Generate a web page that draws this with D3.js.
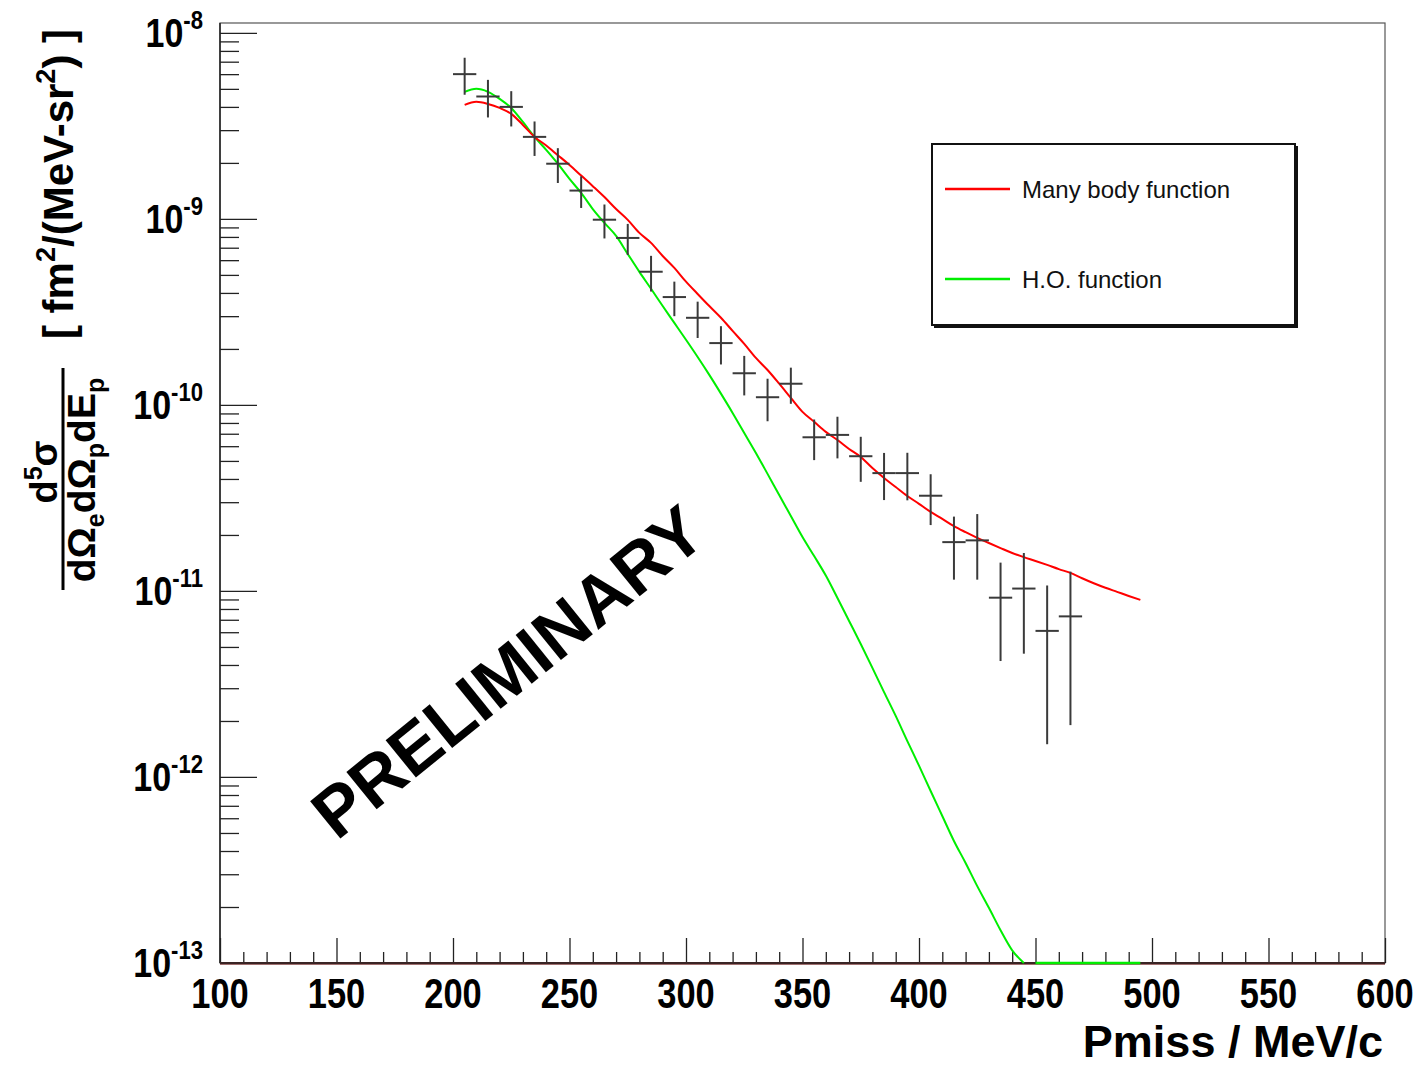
<!DOCTYPE html>
<html>
<head>
<meta charset="utf-8">
<script src="https://cdn.jsdelivr.net/npm/d3@7"></script>
<style>
  html, body { margin: 0; padding: 0; background: #fff; }
  svg { display: block; }
  text { font-family: "Liberation Sans", Arial, Helvetica, sans-serif; }
</style>
</head>
<body>
<svg id="chart" width="1420" height="1067"></svg>
<script>
// Measured cross section vs missing momentum (bin centres, MeV/c)
const pmiss = [205, 215, 225, 235, 245, 255, 265, 275, 285, 295, 305, 315, 325, 335, 345,
               355, 365, 375, 385, 395, 405, 415, 425, 435, 445, 455, 465];
const xsec = [6.0e-9, 4.55e-9, 4.0e-9, 2.76e-9, 1.98e-9, 1.42e-9, 9.9e-10, 7.9e-10, 5.2e-10, 3.8e-10,
              2.94e-10, 2.15e-10, 1.48e-10, 1.10e-10, 1.30e-10, 6.7e-11, 6.9e-11, 5.3e-11, 4.3e-11, 4.3e-11,
              3.25e-11, 1.83e-11, 1.87e-11, 9.2e-12, 1.03e-11, 6.1e-12, 7.3e-12];
const xsecErr = [1.35e-9, 1.04e-9, 0.86e-9, 0.58e-9, 0.42e-9, 0.275e-9, 2.05e-10, 1.5e-10, 1.13e-10, 0.8e-10,
                 0.65e-10, 0.5e-10, 0.355e-10, 2.83e-11, 2.86e-11, 1.65e-11, 1.74e-11, 1.44e-11, 1.22e-11, 1.23e-11,
                 0.99e-11, 0.68e-11, 0.72e-11, 0.50e-11, 0.57e-11, 0.46e-11, 0.54e-11];
const binHalfWidth = 5;

// Model curves sampled in missing momentum
const curveP = [205, 210, 215, 220, 225, 230, 235, 240, 245, 250, 255, 260, 265, 270, 275, 280,
                285, 290, 295, 300, 305, 310, 315, 320, 325, 330, 335, 340, 345, 350, 355, 360,
                365, 370, 375, 380, 385, 390, 395, 400, 405, 410, 415, 420, 425, 430, 435, 440,
                445, 450, 455, 460, 465, 470, 475, 480, 485, 490, 495];
const manyBody = [4.10e-9, 4.26e-9, 4.15e-9, 3.95e-9, 3.67e-9, 3.20e-9, 2.76e-9, 2.48e-9, 2.20e-9, 1.95e-9,
                  1.71e-9, 1.50e-9, 1.31e-9, 1.13e-9, 9.88e-10, 8.41e-10, 7.43e-10, 6.32e-10, 5.45e-10, 4.60e-10,
                  3.95e-10, 3.40e-10, 2.94e-10, 2.50e-10, 2.13e-10, 1.79e-10, 1.54e-10, 1.30e-10, 1.09e-10, 9.17e-11,
                  8.11e-11, 7.16e-11, 6.48e-11, 5.80e-11, 5.25e-11, 4.58e-11, 4.05e-11, 3.62e-11, 3.24e-11, 2.94e-11,
                  2.66e-11, 2.44e-11, 2.23e-11, 2.07e-11, 1.93e-11, 1.81e-11, 1.70e-11, 1.60e-11, 1.52e-11, 1.45e-11,
                  1.38e-11, 1.31e-11, 1.25e-11, 1.17e-11, 1.10e-11, 1.04e-11, 9.89e-12, 9.40e-12, 8.95e-12];
const hoFunction = [4.82e-9, 5.00e-9, 4.82e-9, 4.42e-9, 3.95e-9, 3.32e-9, 2.76e-9, 2.35e-9, 1.98e-9, 1.64e-9,
                    1.38e-9, 1.13e-9, 9.52e-10, 8.10e-10, 6.48e-10, 5.19e-10, 4.21e-10, 3.40e-10, 2.76e-10, 2.24e-10,
                    1.81e-10, 1.45e-10, 1.15e-10, 9.06e-11, 7.07e-11, 5.52e-11, 4.26e-11, 3.28e-11, 2.53e-11, 1.95e-11,
                    1.54e-11, 1.21e-11, 9.17e-12, 6.90e-12, 5.19e-12, 3.86e-12, 2.86e-12, 2.13e-12, 1.56e-12, 1.15e-12,
                    8.41e-13, 6.17e-13, 4.53e-13, 3.45e-13, 2.59e-13, 1.98e-13, 1.50e-13, 1.17e-13, 1.00e-13, 7.0e-14,
                    4.0e-14, 2.5e-14, 1.5e-14, 9.0e-15, 5.0e-15, 3.0e-15, 2.0e-15, 1.0e-15, 6.0e-16];

// Axis ticks
const xMajorTicks = [100, 150, 200, 250, 300, 350, 400, 450, 500, 550, 600];
const xMinorTicks = [110, 120, 130, 140, 160, 170, 180, 190, 210, 220, 230, 240, 260, 270, 280, 290,
                     310, 320, 330, 340, 360, 370, 380, 390, 410, 420, 430, 440, 460, 470, 480, 490,
                     510, 520, 530, 540, 560, 570, 580, 590];
const yDecadeExponents = [-8, -9, -10, -11, -12, -13];
const yMinorMantissas = [2, 3, 4, 5, 6, 7, 8, 9];

const legendItems = [
  { label: "Many body function", color: "#ff0000" },
  { label: "H.O. function", color: "#00ee00" }
];

const yMin = 1e-13, yMax = 1.13e-8;
const plot = { left: 220, right: 1385, top: 23, bottom: 963 };

const svg = d3.select("#chart");
const x = d3.scaleLinear().domain([100, 600]).range([plot.left, plot.right]);
const y = d3.scaleLog().domain([yMin, yMax]).range([plot.bottom, plot.top]).clamp(true);

// Frame
svg.append("rect")
  .attr("x", plot.left).attr("y", plot.top)
  .attr("width", plot.right - plot.left).attr("height", plot.bottom - plot.top)
  .attr("fill", "none").attr("stroke", "#555").attr("stroke-width", 1.2);

// X axis ticks (drawn inward)
const xMajorAxis = d3.axisBottom(x).tickValues(xMajorTicks).tickSize(-25).tickFormat("");
const xMinorAxis = d3.axisBottom(x).tickValues(xMinorTicks).tickSize(-11).tickFormat("");
[xMajorAxis, xMinorAxis].forEach(ax => {
  const g = svg.append("g").attr("transform", `translate(0,${plot.bottom})`).call(ax);
  g.select(".domain").remove();
  g.selectAll(".tick line").attr("stroke", "#222").attr("stroke-width", 1.3);
});

// Y axis ticks (drawn inward)
const yMajorVals = yDecadeExponents.map(e => Math.pow(10, e));
const yMinorVals = [];
yDecadeExponents.forEach(e => yMinorMantissas.forEach(m => {
  const v = m * Math.pow(10, e);
  if (v <= yMax && v >= yMin) yMinorVals.push(v);
}));
const yMajorAxis = d3.axisLeft(y).tickValues(yMajorVals).tickSize(-37).tickFormat("");
const yMinorAxis = d3.axisLeft(y).tickValues(yMinorVals).tickSize(-19).tickFormat("");
[yMajorAxis, yMinorAxis].forEach(ax => {
  const g = svg.append("g").attr("transform", `translate(${plot.left},0)`).call(ax);
  g.select(".domain").remove();
  g.selectAll(".tick line").attr("stroke", "#222").attr("stroke-width", 1.3);
});

// Left axis line and the bottom axis line
svg.append("line").attr("x1", plot.left).attr("x2", plot.left)
  .attr("y1", plot.top).attr("y2", plot.bottom).attr("stroke", "#222").attr("stroke-width", 1.5);
svg.append("line").attr("x1", plot.left).attr("x2", plot.right)
  .attr("y1", plot.bottom).attr("y2", plot.bottom).attr("stroke", "#3a2424").attr("stroke-width", 2);
svg.append("line").attr("x1", plot.left).attr("x2", plot.right)
  .attr("y1", plot.bottom + 1.5).attr("y2", plot.bottom + 1.5).attr("stroke", "#a07070").attr("stroke-width", 1);

// X tick labels
svg.append("g").selectAll("text").data(xMajorTicks).join("text")
  .attr("transform", d => `translate(${x(d)},${plot.bottom + 45}) scale(0.82,1)`)
  .attr("text-anchor", "middle")
  .attr("font-size", 42).attr("font-weight", "bold").attr("fill", "#000")
  .text(d => d);

// Y tick labels: 10 with superscript exponent
const yLab = svg.append("g").selectAll("g").data(yDecadeExponents).join("g")
  .attr("transform", d => `translate(${plot.left - 17},${y(Math.pow(10, d))}) scale(0.85,1)`);
yLab.append("text")
  .attr("text-anchor", "end").attr("y", 14)
  .attr("font-size", 40).attr("font-weight", "bold").attr("fill", "#000")
  .each(function(d) {
    const t = d3.select(this);
    t.append("tspan").text("10");
    t.append("tspan").attr("font-size", 26).attr("dy", -18).text(String(d));
  });

// X axis title
svg.append("text")
  .attr("x", plot.right - 2).attr("y", 1057)
  .attr("text-anchor", "end")
  .attr("font-size", 45).attr("font-weight", "bold").attr("fill", "#000")
  .text("Pmiss / MeV/c");

// Y axis title: d5σ / (dΩe dΩp dEp)  [ fm²/(MeV-sr²) ]
const yt = svg.append("g").attr("font-weight", "bold").attr("fill", "#000");
yt.append("text")
  .attr("transform", "translate(73,184) rotate(-90)")
  .attr("text-anchor", "middle").attr("font-size", 42)
  .each(function() {
    const t = d3.select(this);
    t.append("tspan").text("[ fm");
    t.append("tspan").attr("font-size", 27).attr("dy", -18).text("2");
    t.append("tspan").attr("dy", 18).text("/(MeV-sr");
    t.append("tspan").attr("font-size", 27).attr("dy", -18).text("2");
    t.append("tspan").attr("dy", 18).text(") ]");
  });
yt.append("text")
  .attr("transform", "translate(57,472) rotate(-90)")
  .attr("text-anchor", "middle").attr("font-size", 38)
  .each(function() {
    const t = d3.select(this);
    t.append("tspan").text("d");
    t.append("tspan").attr("font-size", 25).attr("dy", -15).text("5");
    t.append("tspan").attr("dy", 15).text("σ");
  });
yt.append("line")
  .attr("x1", 63).attr("x2", 63).attr("y1", 368).attr("y2", 590)
  .attr("stroke", "#000").attr("stroke-width", 3);
yt.append("text")
  .attr("transform", "translate(95,480) rotate(-90)")
  .attr("text-anchor", "middle").attr("font-size", 39)
  .each(function() {
    const t = d3.select(this);
    t.append("tspan").text("dΩ");
    t.append("tspan").attr("font-size", 25).attr("dy", 9).text("e");
    t.append("tspan").attr("dy", -9).text("dΩ");
    t.append("tspan").attr("font-size", 25).attr("dy", 9).text("p");
    t.append("tspan").attr("dy", -9).text("dE");
    t.append("tspan").attr("font-size", 25).attr("dy", 9).text("p");
  });

// Model curves
svg.append("clipPath").attr("id", "plotClip").append("rect")
  .attr("x", plot.left).attr("y", plot.top)
  .attr("width", plot.right - plot.left).attr("height", plot.bottom - plot.top + 2);

const mbData = curveP.map((p, i) => ({ p, v: manyBody[i] }));
const hoData = curveP.map((p, i) => ({ p, v: hoFunction[i] }));

const lineAbove = d3.line().x(d => x(d.p)).y(d => y(d.v))
  .defined(d => d.v >= yMin).curve(d3.curveMonotoneX);
const lineFloor = d3.line().x(d => x(d.p)).y(d => y(d.v))
  .defined(d => d.v < yMin);

const curves = svg.append("g").attr("clip-path", "url(#plotClip)");
curves.append("path").datum(hoData).attr("d", lineAbove)
  .attr("fill", "none").attr("stroke", "#00ee00").attr("stroke-width", 2);
curves.append("path").datum(hoData).attr("d", lineFloor)
  .attr("fill", "none").attr("stroke", "#00ee00").attr("stroke-width", 2.5);
curves.append("path").datum(mbData).attr("d", lineAbove)
  .attr("fill", "none").attr("stroke", "#ff0000").attr("stroke-width", 2);

// Data points with error bars
const pts = pmiss.map((p, i) => ({ p, v: xsec[i], e: xsecErr[i] }));
const pg = svg.append("g").attr("stroke", "#3a3a3a").attr("stroke-width", 2);
pg.selectAll("line.v").data(pts).join("line").attr("class", "v")
  .attr("x1", d => x(d.p)).attr("x2", d => x(d.p))
  .attr("y1", d => y(d.v + d.e)).attr("y2", d => y(Math.max(d.v - d.e, yMin)));
pg.selectAll("line.h").data(pts).join("line").attr("class", "h")
  .attr("x1", d => x(d.p - binHalfWidth)).attr("x2", d => x(d.p + binHalfWidth))
  .attr("y1", d => y(d.v)).attr("y2", d => y(d.v));

// Watermark
svg.append("text")
  .attr("transform", "translate(508,672) rotate(-39)")
  .attr("text-anchor", "middle").attr("dominant-baseline", "central")
  .attr("font-size", 70).attr("font-weight", "bold").attr("fill", "#000")
  .text("PRELIMINARY");

// Legend
const lg = svg.append("g");
lg.append("rect").attr("x", 934).attr("y", 146).attr("width", 364).attr("height", 182).attr("fill", "#111");
lg.append("rect").attr("x", 932).attr("y", 144).attr("width", 363).attr("height", 181)
  .attr("fill", "#fff").attr("stroke", "#111").attr("stroke-width", 2);
const li = lg.selectAll("g.item").data(legendItems).join("g").attr("class", "item")
  .attr("transform", (d, i) => `translate(0,${189 + i * 90})`);
li.append("line").attr("x1", 945).attr("x2", 1010).attr("y1", 0).attr("y2", 0)
  .attr("stroke", d => d.color).attr("stroke-width", 2.5);
li.append("text").attr("x", 1022).attr("y", 9)
  .attr("font-size", 24).attr("fill", "#111")
  .text(d => d.label);
</script>
</body>
</html>
